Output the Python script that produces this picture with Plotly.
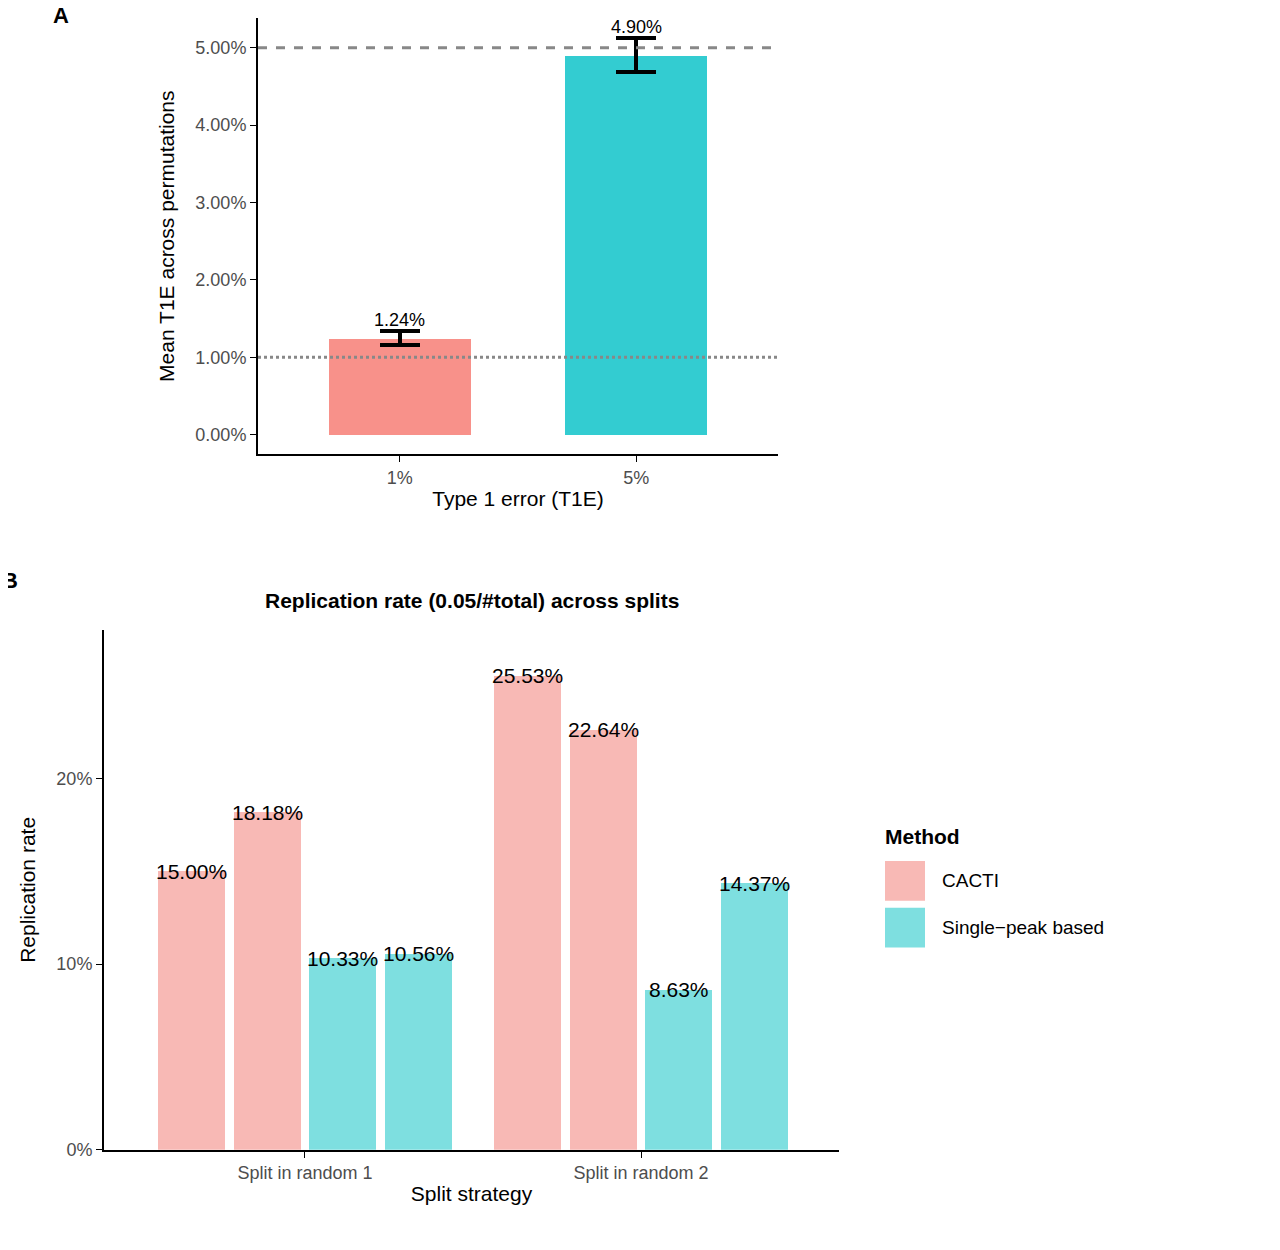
import plotly.graph_objects as go

a_cats = ["1%", "5%"]
a_vals = [1.24, 4.90]
a_hi = [1.333, 5.128]
a_lo = [1.154, 4.68]
a_colors = ["#F8918A", "#33CCD1"]

b_groups = ["Split in random 1", "Split in random 2"]
b_cacti = [[15.00, 18.18], [25.53, 22.64]]
b_single = [[10.33, 10.56], [8.63, 14.37]]
b_offsets = [-0.3375, -0.1125, 0.1125, 0.3375]
methods = ["CACTI", "Single\u2212peak based"]

fig = go.Figure()
F = "Liberation Sans, Arial, sans-serif"
W, H = 1280, 1250
def px(x): return x / W
def py(y): return 1 - y / H

# Panel A
fig.add_trace(go.Bar(x=[0, 1], y=a_vals, width=0.6, marker_color=a_colors,
                     marker_line_width=0, showlegend=False, xaxis="x", yaxis="y",
                     error_y=dict(type="data", symmetric=False,
                                  array=[h - v for h, v in zip(a_hi, a_vals)],
                                  arrayminus=[v - l for l, v in zip(a_lo, a_vals)],
                                  color="black", thickness=4, width=20)))
for i, (v, h) in enumerate(zip(a_vals, a_hi)):
    fig.add_annotation(x=i, y=h, text=f"{v:.2f}%", showarrow=False, yanchor="bottom",
                       xref="x", yref="y", font=dict(size=18, color="black"), yshift=-1)
fig.add_shape(type="line", xref="x domain", yref="y", x0=0, x1=1, y0=5, y1=5,
              line=dict(color="#888", dash="dash", width=3))
fig.add_shape(type="line", xref="x domain", yref="y", x0=0, x1=1, y0=1, y1=1,
              line=dict(color="#888", dash="dot", width=3))

# Panel B
cols = ["#F8B9B5", "#7EDFE0"]
for mi, data in enumerate([b_cacti, b_single]):
    xs, ys = [], []
    for g in range(2):
        for k in range(2):
            xs.append(g + 1 + b_offsets[mi * 2 + k])
            ys.append(data[g][k])
    fig.add_trace(go.Bar(x=xs, y=ys, width=0.2, marker_color=cols[mi], marker_line_width=0,
                         name=methods[mi], showlegend=False, xaxis="x2", yaxis="y2"))
    for x, y in zip(xs, ys):
        fig.add_annotation(x=x, y=y, text=f"{y:.2f}%", showarrow=False, xref="x2", yref="y2",
                           font=dict(size=21, color="black"))

# manual legend
fig.add_annotation(x=px(875), y=py(835), xref="paper", yref="paper", text="<b>Method</b>",
                   showarrow=False, xanchor="left", yanchor="middle", font=dict(size=21))
for mi, (y0, y1) in enumerate([(860, 900), (907, 947)]):
    fig.add_shape(type="rect", xref="paper", yref="paper", x0=px(877), x1=px(917),
                  y0=py(y1), y1=py(y0), fillcolor=cols[mi], line_width=0)
    fig.add_annotation(x=px(932), y=py((y0 + y1) / 2), xref="paper", yref="paper",
                       text=methods[mi], showarrow=False, xanchor="left", yanchor="middle",
                       font=dict(size=19))

ax = dict(showline=True, linecolor="black", linewidth=2, ticks="outside", ticklen=6,
          tickcolor="black", showgrid=False, zeroline=False, tickfont=dict(size=18, color="#4d4d4d"))
dx = -7
fig.update_layout(
    width=W, height=H, margin=dict(l=0, r=0, t=0, b=0),
    plot_bgcolor="white", paper_bgcolor="white", font=dict(family=F, color="black"),
    bargap=0, showlegend=False,
    xaxis=dict(ax, domain=[px(257 + dx), px(777 + dx)], anchor="y", range=[-0.6, 1.6],
               tickvals=[0, 1], ticktext=a_cats,
               title=dict(text="Type 1 error (T1E)", font=dict(size=21), standoff=4)),
    yaxis=dict(ax, domain=[py(450), py(10)], anchor="x", range=[-0.256, 5.385],
               tickvals=[0, 1, 2, 3, 4, 5], ticktext=[f"{v:.2f}%" for v in range(6)],
               title=dict(text="Mean T1E across permutations", font=dict(size=21))),
    xaxis2=dict(ax, domain=[px(103 + dx), px(838 + dx)], anchor="y2", range=[0.402, 2.589],
                tickvals=[1, 2], ticktext=b_groups,
                title=dict(text="Split strategy", font=dict(size=21), standoff=4)),
    yaxis2=dict(ax, domain=[py(1151), py(627)], anchor="x2", range=[0, 28],
                tickvals=[0, 10, 20], ticktext=["0%", "10%", "20%"],
                title=dict(text="Replication rate", font=dict(size=21))),
)
fig.add_annotation(x=px(43), y=py(-7), xref="paper", yref="paper", text="<b>A</b>",
                   showarrow=False, font=dict(size=22))
fig.add_annotation(x=px(-8), y=py(577), xref="paper", yref="paper", text="<b>B</b>",
                   showarrow=False, font=dict(size=22))
fig.add_annotation(x=px(464), y=py(597), xref="paper", yref="paper",
                   text="<b>Replication rate (0.05/#total) across splits</b>",
                   showarrow=False, font=dict(size=21))
fig.write_html("out.html")
